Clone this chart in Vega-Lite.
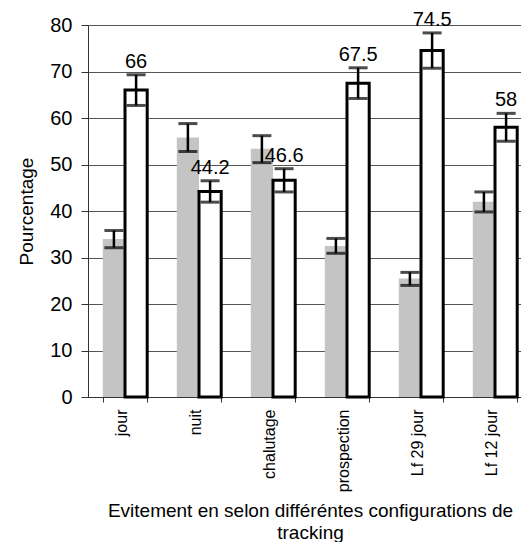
{
  "$schema": "https://vega.github.io/schema/vega-lite/v6.json",
  "width": 444,
  "height": 372,
  "autosize": "none",
  "padding": {"left": 88, "top": 25, "right": 0, "bottom": 145},
  "background": "white",
  "config": {"font": "Liberation Sans", "view": {"stroke": null}},
  "data": {
    "values": [
      {"cat": "jour", "serie": "g", "value": 34, "lo": 32.1, "hi": 35.8},
      {"cat": "jour", "serie": "w", "value": 66, "lo": 62.7, "hi": 69.3},
      {"cat": "nuit", "serie": "g", "value": 55.8, "lo": 52.8, "hi": 58.8},
      {"cat": "nuit", "serie": "w", "value": 44.2, "lo": 41.9, "hi": 46.5},
      {"cat": "chalutage", "serie": "g", "value": 53.4, "lo": 50.4, "hi": 56.2},
      {"cat": "chalutage", "serie": "w", "value": 46.6, "lo": 44.1, "hi": 49.1},
      {"cat": "prospection", "serie": "g", "value": 32.5, "lo": 30.9, "hi": 34.1},
      {"cat": "prospection", "serie": "w", "value": 67.5, "lo": 64.2, "hi": 70.8},
      {"cat": "Lf 29 jour", "serie": "g", "value": 25.5, "lo": 24.0, "hi": 26.8},
      {"cat": "Lf 29 jour", "serie": "w", "value": 74.5, "lo": 70.7, "hi": 78.3},
      {"cat": "Lf 12 jour", "serie": "g", "value": 42, "lo": 39.8, "hi": 44.1},
      {"cat": "Lf 12 jour", "serie": "w", "value": 58, "lo": 55, "hi": 61}
    ]
  },
  "encoding": {
    "x": {
      "field": "cat", "type": "nominal", "sort": null,
      "scale": {"paddingInner": 0.4, "paddingOuter": 0.2},
      "axis": {
        "title": ["Evitement en selon différéntes configurations de", "tracking"],
        "labelAngle": -90, "tickBand": "extent", "tickSize": 5,
        "labelFontSize": 16, "labelColor": "black", "labelPadding": 7, "labelOffset": -4,
        "domainColor": "#333", "tickColor": "#333",
        "titleFontSize": 19, "titleFontWeight": "normal", "titleColor": "black",
        "titlePadding": 10, "titleLineHeight": 22
      }
    },
    "xOffset": {"field": "serie", "type": "nominal", "scale": {"domain": ["g", "w"]}}
  },
  "layer": [
    {
      "transform": [{"filter": "datum.serie == 'g'"}],
      "mark": {"type": "bar", "fill": "#c4c4c4"},
      "encoding": {
        "y": {
          "field": "value", "type": "quantitative",
          "scale": {"domain": [0, 80], "nice": false},
          "axis": {
            "title": "Pourcentage", "values": [0, 10, 20, 30, 40, 50, 60, 70, 80],
            "grid": true, "gridColor": "#555", "gridWidth": 1,
            "domainColor": "#333", "tickColor": "#333", "tickSize": 7,
            "labelFontSize": 20, "labelColor": "black", "labelPadding": 9,
            "titleFontSize": 19, "titleFontWeight": "normal", "titleColor": "black",
            "titlePadding": 13
          }
        }
      }
    },
    {
      "transform": [{"filter": "datum.serie == 'w'"}],
      "mark": {"type": "bar", "fill": "white", "stroke": "black", "strokeWidth": 3},
      "encoding": {"y": {"field": "value", "type": "quantitative"}}
    },
    {
      "mark": {"type": "rule", "color": "black", "strokeWidth": 2.5},
      "encoding": {
        "y": {"field": "lo", "type": "quantitative"},
        "y2": {"field": "hi"}
      }
    },
    {
      "mark": {"type": "tick", "color": "black", "thickness": 3, "size": 19},
      "encoding": {"y": {"field": "lo", "type": "quantitative"}}
    },
    {
      "mark": {"type": "tick", "color": "black", "thickness": 3, "size": 19},
      "encoding": {"y": {"field": "hi", "type": "quantitative"}}
    },
    {
      "transform": [{"filter": "datum.serie == 'w'"}],
      "mark": {"type": "text", "fontSize": 20, "dy": -13, "color": "black"},
      "encoding": {
        "y": {"field": "hi", "type": "quantitative"},
        "text": {"field": "value", "type": "quantitative"}
      }
    }
  ]
}
